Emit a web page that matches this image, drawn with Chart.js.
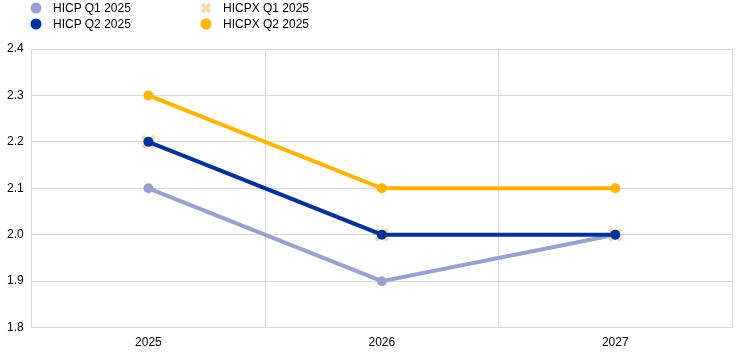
<!DOCTYPE html>
<html>
<head>
<meta charset="utf-8">
<script src="https://cdn.jsdelivr.net/npm/chart.js@4/dist/chart.umd.min.js"></script>
<style>
    html, body { margin: 0; padding: 0; background: #fff; }
    #wrap { position: relative; width: 744px; height: 354px; font-family: "Liberation Sans", Arial, sans-serif; }
    #legend { position: absolute; left: 30px; top: 0; font-size: 12px; color: #000; }
    .leg-item { position: absolute; white-space: nowrap; line-height: 16px; }
    .leg-mark { position: absolute; left: 0; top: 2px; width: 12px; height: 12px; }
    .leg-text { position: absolute; left: 23px; top: 0; }
</style>
</head>
<body>
<div id="wrap">
    <canvas id="chart" width="744" height="354"></canvas>
    <div id="legend"></div>
</div>
<script>
const years = ["2025", "2026", "2027"];
const hicpQ1 = [2.1, 1.9, 2.0];
const hicpQ2 = [2.2, 2.0, 2.0];
const hicpxQ1 = [2.2, 2.0, 2.0];
const hicpxQ2 = [2.3, 2.1, 2.1];

const colors = {
    hicpQ1: "#98a1d0",
    hicpQ2: "#003299",
    hicpxQ1: "#fdd6a0",
    hicpxQ2: "#ffb400"
};

const legendItems = [
    { label: "HICP Q1 2025", color: colors.hicpQ1, shape: "circle", x: 0, y: 0 },
    { label: "HICP Q2 2025", color: colors.hicpQ2, shape: "circle", x: 0, y: 16 },
    { label: "HICPX Q1 2025", color: colors.hicpxQ1, shape: "cross", x: 170, y: 0 },
    { label: "HICPX Q2 2025", color: colors.hicpxQ2, shape: "circle", x: 170, y: 16 }
];

function buildLegend() {
    const box = document.getElementById("legend");
    legendItems.forEach(item => {
        const div = document.createElement("div");
        div.className = "leg-item";
        div.style.left = item.x + "px";
        div.style.top = item.y + "px";
        let mark;
        if (item.shape === "circle") {
            mark = `<svg class="leg-mark" viewBox="0 0 12 12"><circle cx="6" cy="6" r="5.5" fill="${item.color}"/></svg>`;
        } else {
            mark = `<svg class="leg-mark" viewBox="0 0 12 12"><path d="M2 2 L10 10 M10 2 L2 10" stroke="${item.color}" stroke-width="3.2"/></svg>`;
        }
        div.innerHTML = mark + `<span class="leg-text">${item.label}</span>`;
        box.appendChild(div);
    });
}

buildLegend();

new Chart(document.getElementById("chart"), {
    type: "line",
    data: {
        labels: years,
        datasets: [
            {
                label: "HICP Q2 2025",
                data: hicpQ2,
                borderColor: colors.hicpQ2,
                backgroundColor: colors.hicpQ2,
                borderWidth: 4,
                pointRadius: 5,
                pointBorderWidth: 0,
                order: 1
            },
            {
                label: "HICPX Q1 2025",
                data: hicpxQ1,
                showLine: false,
                pointStyle: "crossRot",
                borderColor: colors.hicpxQ1,
                backgroundColor: colors.hicpxQ1,
                pointRadius: 8,
                pointBorderWidth: 4,
                order: 2
            },
            {
                label: "HICP Q1 2025",
                data: hicpQ1,
                borderColor: colors.hicpQ1,
                backgroundColor: colors.hicpQ1,
                borderWidth: 4,
                pointRadius: 5,
                pointBorderWidth: 0,
                order: 3
            },
            {
                label: "HICPX Q2 2025",
                data: hicpxQ2,
                borderColor: colors.hicpxQ2,
                backgroundColor: colors.hicpxQ2,
                borderWidth: 4,
                pointRadius: 5,
                pointBorderWidth: 0,
                order: 4
            }
        ]
    },
    options: {
        responsive: false,
        animation: false,
        layout: { padding: { top: 49, left: -1, right: 9, bottom: -4 } },
        plugins: {
            legend: { display: false },
            tooltip: { enabled: false }
        },
        scales: {
            x: {
                offset: true,
                grid: { offset: true, color: "#d9d9d9", drawTicks: false },
                border: { color: "#d9d9d9" },
                ticks: {
                    color: "#000",
                    padding: 8,
                    font: { family: "'Liberation Sans', Arial, sans-serif", size: 12 }
                }
            },
            y: {
                min: 1.8,
                max: 2.4,
                grid: { color: "#d9d9d9", drawTicks: false },
                border: { color: "#d9d9d9" },
                ticks: {
                    stepSize: 0.1,
                    color: "#000",
                    padding: 8,
                    font: { family: "'Liberation Sans', Arial, sans-serif", size: 12 },
                    callback: v => v.toFixed(1)
                }
            }
        }
    }
});
</script>
</body>
</html>
